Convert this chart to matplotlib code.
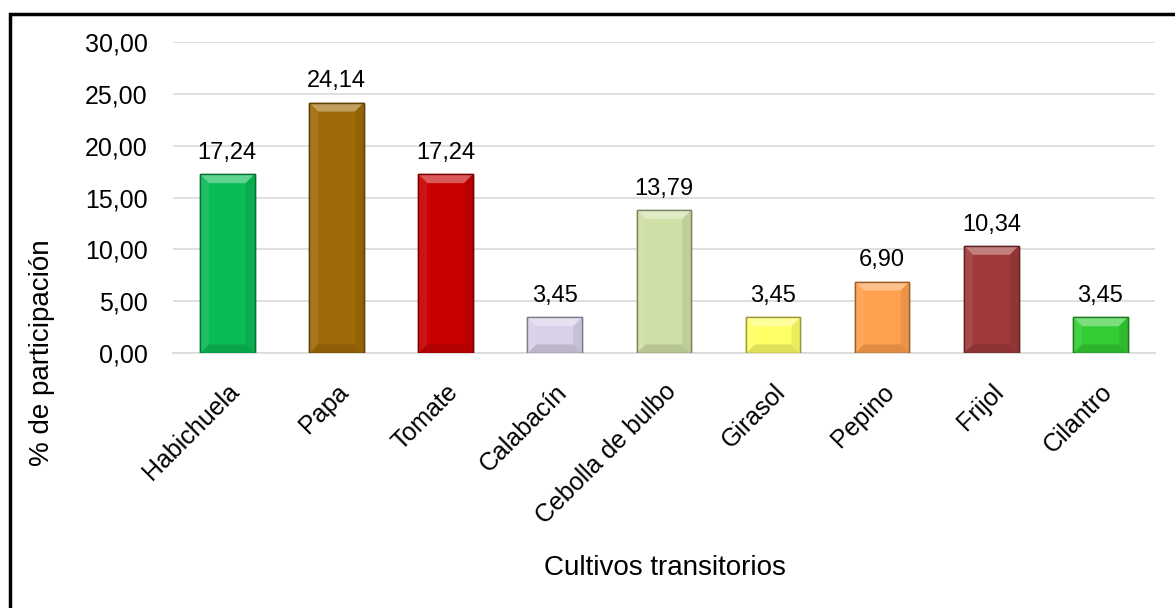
import matplotlib.pyplot as plt
import matplotlib.patches as mpatches
import matplotlib.colors as mcolors
import numpy as np

plt.rcParams['font.family'] = ['Liberation Sans', 'DejaVu Sans']

cultivos = ['Habichuela', 'Papa', 'Tomate', 'Calabacín', 'Cebolla de bulbo',
            'Girasol', 'Pepino', 'Frijol', 'Cilantro']
porcentaje = [17.24, 24.14, 17.24, 3.45, 13.79, 3.45, 6.90, 10.34, 3.45]
colores = ['#0BBB55', '#A06A08', '#C80000', '#D8D0E8', '#CFE0A6',
           '#FFFF66', '#FFA04C', '#A03A3A', '#33CC33']

fig = plt.figure(figsize=(11.75, 6.08), dpi=100)
ax = fig.add_axes([0.147, 0.419, 0.836, 0.512])
ax.set_ylim(0, 30)
ax.set_xlim(-0.5, len(cultivos) - 0.5)

x = np.arange(len(cultivos))
bordes = [tuple(np.array(mcolors.to_rgb(c)) * 0.6) for c in colores]
barras = ax.bar(x, porcentaje, width=0.5, color=colores, edgecolor=bordes,
                linewidth=1.0, zorder=3)


def mezcla(c, f):
    # f>0 aclara hacia blanco, f<0 oscurece
    rgb = np.array(mcolors.to_rgb(c))
    if f >= 0:
        return tuple(rgb + (1 - rgb) * f)
    return tuple(rgb * (1 + f))


# efecto de bisel (como en Excel)
dx, dy = 0.08, 0.85
for b, c in zip(barras, colores):
    x0, w, h = b.get_x(), b.get_width(), b.get_height()
    x1 = x0 + w
    caras = [
        ([(x0, h), (x1, h), (x1 - dx, h - dy), (x0 + dx, h - dy)], mezcla(c, 0.35)),
        ([(x0, 0), (x1, 0), (x1 - dx, dy), (x0 + dx, dy)], mezcla(c, -0.12)),
        ([(x0, 0), (x0, h), (x0 + dx, h - dy), (x0 + dx, dy)], mezcla(c, 0.08)),
        ([(x1, 0), (x1, h), (x1 - dx, h - dy), (x1 - dx, dy)], mezcla(c, -0.08)),
    ]
    for pts, col in caras:
        ax.add_patch(mpatches.Polygon(pts, closed=True, facecolor=col,
                                      edgecolor='none', zorder=4))
    ax.add_patch(mpatches.Rectangle((x0, 0), w, h, fill=False,
                                    edgecolor=mezcla(c, -0.4), linewidth=1.0,
                                    zorder=5))

for xi, v in zip(x, porcentaje):
    ax.text(xi, v + 1.0, f'{v:.2f}'.replace('.', ','), ha='center', va='bottom',
            fontsize=17)

ax.set_yticks(np.arange(0, 31, 5))
ax.set_yticklabels([f'{t:.2f}'.replace('.', ',') for t in np.arange(0, 31, 5)],
                   fontsize=18)
ax.set_xticks(x)
ax.set_xticklabels(cultivos, rotation=45, ha='right', rotation_mode='anchor',
                   fontsize=18)
ax.tick_params(axis='x', length=0, pad=19)
ax.tick_params(axis='y', length=0, pad=18)
ax.grid(axis='y', color='#D9D9D9', linewidth=1.2, zorder=0)
for s in ['top', 'right', 'left']:
    ax.spines[s].set_visible(False)
ax.spines['bottom'].set_color('#D9D9D9')
ax.spines['bottom'].set_linewidth(1.2)

fig.text(42 / 1175, 1 - 353 / 608, '% de participación', rotation=90,
         ha='center', va='center', fontsize=20)
fig.text(665 / 1175, 1 - 568 / 608, 'Cultivos transitorios', ha='center',
         va='center', fontsize=20)

marco = mpatches.Rectangle((10 / 1175, -0.01), 1.0, 1 - 14 / 608 + 0.01,
                           transform=fig.transFigure, fill=False,
                           edgecolor='black', linewidth=2.5)
fig.patches.append(marco)

fig.savefig('out.png', dpi=100)
